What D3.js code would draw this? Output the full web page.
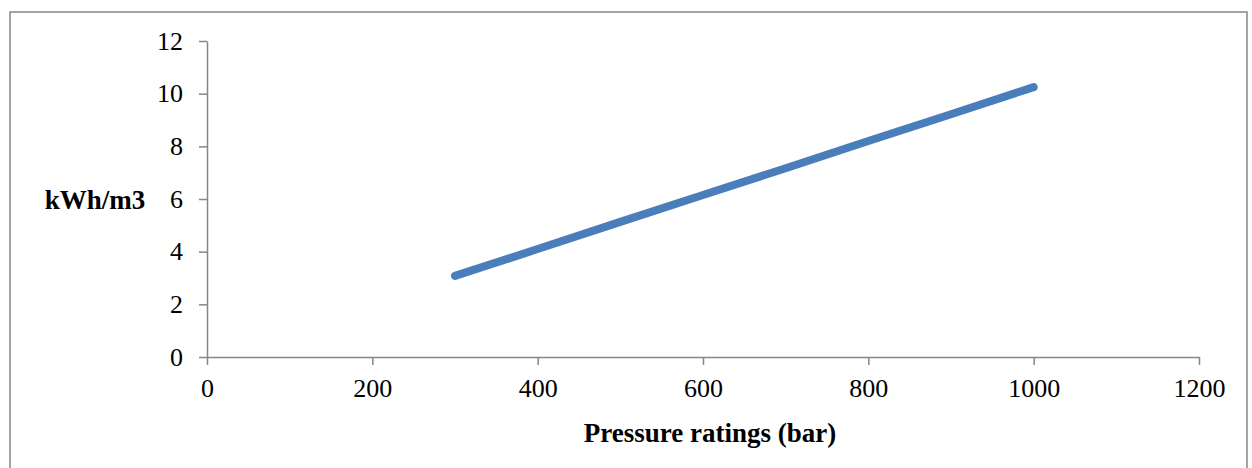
<!DOCTYPE html>
<html><head><meta charset="utf-8">
<script src="https://cdn.jsdelivr.net/npm/d3@7"></script>
<style>
html,body{margin:0;padding:0;background:#fff;}
text{font-family:"Liberation Serif","Times New Roman",serif;}
</style></head>
<body><svg id="c" width="1252" height="468"></svg>
<script>
const pressures = [300, 400, 500, 600, 700, 800, 900, 1000];
const energy = [3.08, 4.1, 5.13, 6.15, 7.17, 8.2, 9.22, 10.25];
const xTicks = [0, 200, 400, 600, 800, 1000, 1200];
const yTicks = [0, 2, 4, 6, 8, 10, 12];
const xTitle = "Pressure ratings (bar)";
const yTitle = "kWh/m3";

const svg = d3.select("#c");
svg.append("rect").attr("x", 10).attr("y", 12).attr("width", 1237).attr("height", 470)
  .attr("fill", "#fff").attr("stroke", "#868686").attr("stroke-width", 1.5);

const x = d3.scaleLinear().domain([0, 1200]).range([207, 1199]);
const y = d3.scaleLinear().domain([0, 12]).range([357, 41]);

const xa = svg.append("g").attr("transform", "translate(0,357)")
  .call(d3.axisBottom(x).tickValues(xTicks).tickFormat(d3.format("d")).tickSize(8).tickSizeOuter(0).tickPadding(14));
const ya = svg.append("g").attr("transform", "translate(207,0)")
  .call(d3.axisLeft(y).tickValues(yTicks).tickFormat(d3.format("d")).tickSize(8).tickSizeOuter(0).tickPadding(16));
[xa, ya].forEach(a => {
  a.attr("font-family", "Liberation Serif").attr("font-size", 26);
  a.selectAll("path,line").attr("stroke", "#868686").attr("stroke-width", 1.5);
  a.selectAll("text").style("font-family", "Liberation Serif").style("font-size", "26px").attr("fill", "#000");
});

const line = d3.line().x((d, i) => x(pressures[i])).y(d => y(d));
svg.append("path").datum(energy).attr("d", line).attr("fill", "none")
  .attr("stroke", "#4A7EBB").attr("stroke-width", 8).attr("stroke-linecap", "round").attr("stroke-linejoin", "round");

svg.append("text").attr("x", 710).attr("y", 442).attr("text-anchor", "middle")
  .attr("font-weight", "bold").style("font-size", "27px").text(xTitle);
svg.append("text").attr("x", 95).attr("y", 209).attr("text-anchor", "middle")
  .attr("font-weight", "bold").style("font-size", "27px").text(yTitle);
</script></body></html>
